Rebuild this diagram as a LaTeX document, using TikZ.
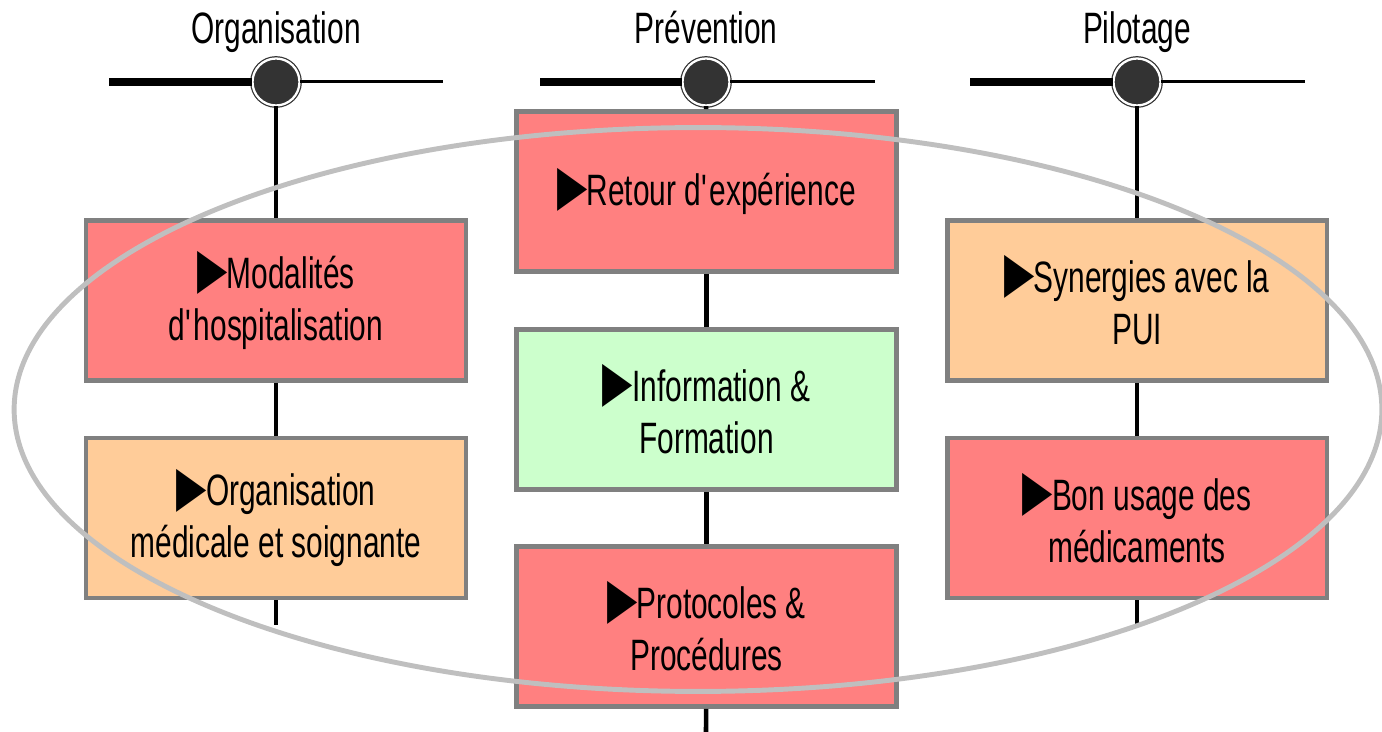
\documentclass[tikz,border=0pt]{standalone}
\usepackage{fontspec}
\setmainfont{Liberation Sans}[FakeStretch=0.68]
\newfontfamily\trifont{DejaVu Sans}[FakeStretch=0.7]
\usepackage{tikz}
\usetikzlibrary{positioning}

\definecolor{boxred}{HTML}{FF8080}
\definecolor{boxorange}{HTML}{FFCC99}
\definecolor{boxgreen}{HTML}{CCFFCC}
\definecolor{boxborder}{HTML}{808080}
\definecolor{hubfill}{HTML}{333333}
\definecolor{ringgray}{HTML}{BFBFBF}

\newcommand{\tri}{{\trifont\fontsize{32}{29.6}\selectfont\raisebox{0.5pt}{▶}}\kern-0.5pt}
\newcommand{\apos}{\textquotesingle}

\begin{document}
\begin{tikzpicture}[x=0.02cm,y=-0.02cm]

\tikzset{
	axis title/.style={font=\fontsize{25}{29.6}\selectfont, anchor=base, inner sep=0pt},
	item box/.style={
		draw=boxborder,
		line width=2.8pt,
		fill=#1,
		minimum width=7.6cm,
		minimum height=3.2cm,
		align=center,
		font=\fontsize{25}{29.6}\selectfont,
		inner sep=0pt
	},
	item box/.default=boxred,
	hub/.style={
		circle,
		draw=hubfill,
		fill=hubfill,
		line width=0.7pt,
		double=white,
		double distance=1.3pt,
		minimum size=0.94cm,
		inner sep=0pt
	},
	thick bar/.style={line width=4pt},
	thin bar/.style={line width=1.7pt},
	stem/.style={line width=2.6pt},
	ring/.style={draw=ringgray, line width=2.8pt}
}

\useasboundingbox (0,0) rectangle (1382,732);

% titres
\node[axis title] (tOrg) at (276,44) {Organisation};
\node[axis title] (tPrev) at (706,44) {Prévention};
\node[axis title] (tPil) at (1137,44) {Pilotage};

% axes
\node[hub] (hOrg) at (276,82) {};
\node[hub] (hPrev) at (706,82) {};
\node[hub] (hPil) at (1137,82) {};

\coordinate (aOrg) at (109,82);
\coordinate (bOrg) at (443,82);
\coordinate (aPrev) at (540,82);
\coordinate (bPrev) at (875,82);
\coordinate (aPil) at (970,82);
\coordinate (bPil) at (1305,82);

\draw[thick bar] (aOrg) -- (hOrg);
\draw[thin bar] (hOrg) -- (bOrg);
\draw[thick bar] (aPrev) -- (hPrev);
\draw[thin bar] (hPrev) -- (bPrev);
\draw[thick bar] (aPil) -- (hPil);
\draw[thin bar] (hPil) -- (bPil);

% boites
\node[item box=boxred] (modal) at (276,300.5) {\tri Modalités\\d\apos hospitalisation};
\node[item box=boxorange] (orgmed) at (276,518) {\tri Organisation\\médicale et soignante};

\node[item box=boxred] (retex) at (706.5,191.5) {\tri Retour d\apos expérience};
\node[item box=boxgreen] (info) at (706.5,409.5) {\tri Information \&\\Formation};
\node[item box=boxred] (proto) at (706.5,626.5) {\tri Protocoles \&\\Procédures};

\node[item box=boxorange] (syn) at (1137,300.5) {\tri Synergies avec la\\PUI};
\node[item box=boxred] (bon) at (1137,518) {\tri Bon usage des\\médicaments};

\coordinate (eOrg) at (276,625);
\coordinate (ePrev) at (706,732);
\coordinate (ePil) at (1137,625);

\draw[stem] (hOrg) -- (modal);
\draw[stem] (modal) -- (orgmed);
\draw[stem] (orgmed) -- (eOrg);
\draw[stem] (hPrev) -- (retex);
\draw[stem] (retex) -- (info);
\draw[stem] (info) -- (proto);
\draw[stem] (proto) -- (ePrev);
\draw[stem] (hPil) -- (syn);
\draw[stem] (syn) -- (bon);
\draw[stem] (bon) -- (ePil);

% anneau
\draw[ring] (698,409.5) ellipse [x radius=13.68cm, y radius=5.64cm];

\end{tikzpicture}
\end{document}
